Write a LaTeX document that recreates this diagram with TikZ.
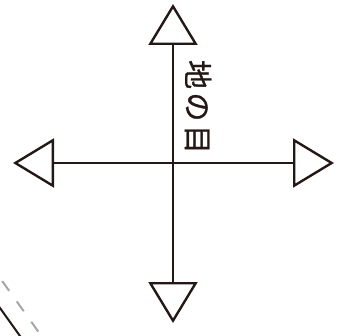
\documentclass[tikz,border=0pt]{standalone}
\usepackage{fontspec}
\newfontfamily\jpfont[LetterSpace=12, FakeBold=1.2]{Noto Sans CJK JP}
\usetikzlibrary{arrows.meta}

\definecolor{inkblack}{RGB}{35,24,21}

\tikzset{
	axis/.style={inkblack, line width=2.4pt, {Triangle[open, length=41pt, width=49pt]}-{Triangle[open, length=41pt, width=49pt]}},
	grain/.style={text=inkblack, font=\jpfont\fontsize{29}{29}\selectfont, inner sep=0pt, rotate=-90},
}

\begin{document}
\begin{tikzpicture}[x=1pt, y=-1pt]

		\useasboundingbox (0,0) rectangle (350,336);

		% define point

		\coordinate (O) at (173, 163);

		\coordinate (N) at (173, 4);

		\coordinate (S) at (173, 323);

		\coordinate (W) at (13, 163);

		\coordinate (E) at (334, 163);

		% cross

		\draw[axis] (W) -- (E);

		\draw[axis] (N) -- (S);

		\node[grain] (label) at (198, 107) {地の目};

		% fold line

		\begin{scope}
			\clip (0,0) rectangle (350,336);
			\draw[inkblack, line width=2pt] (-10, 294) -- (30, 350);
			\draw[line width=2pt, gray!70, dash pattern=on 12pt off 13pt, dash phase=4pt] (-10, 264) -- (50, 348);
		\end{scope}

	\end{tikzpicture}
\end{document}
